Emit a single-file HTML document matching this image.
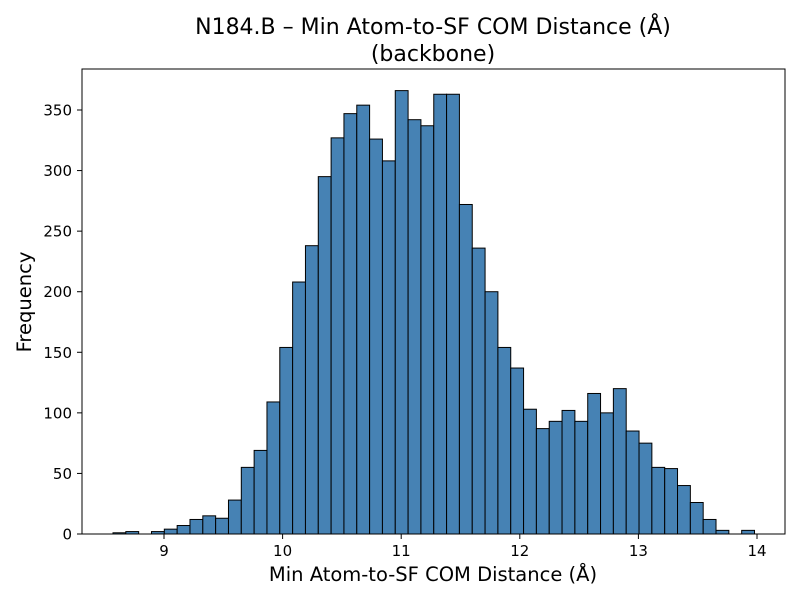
<!DOCTYPE html>
<html><head><meta charset="utf-8"><style>
body{margin:0;background:#fff;}
svg text{font-family:"DejaVu Sans","Liberation Sans",sans-serif;fill:#000;}
</style></head><body>
<svg id="chart" width="800" height="600">
<rect width="800" height="600" fill="#fff"/>
<text x="433" y="34" text-anchor="middle" font-size="22">N184.B – Min Atom-to-SF COM Distance (Å)</text>
<text x="433" y="61" text-anchor="middle" font-size="22">(backbone)</text>
<g id="bars"></g>
<rect x="82" y="69" width="703" height="465" fill="none" stroke="#000" stroke-width="1"/>
<g id="xticks"></g><g id="yticks"></g>
<text x="433" y="581" text-anchor="middle" font-size="19.5">Min Atom-to-SF COM Distance (Å)</text>
<text x="0" y="0" transform="translate(31,302) rotate(-90)" text-anchor="middle" font-size="19.5">Frequency</text>
</svg>
<script>
const binStart = 8.570;
const binWidth = 0.10818;
const counts = [1,2,0,2,4,7,12,15,13,28,55,69,109,154,208,238,295,327,347,354,326,308,366,342,337,363,363,272,236,200,154,137,103,87,93,102,93,116,100,120,85,75,55,54,40,26,12,3,0,3];
const xTicks = [9,10,11,12,13,14];
const yTicks = [0,50,100,150,200,250,300,350];
const NS="http://www.w3.org/2000/svg";
function xs(v){return 164+(v-9)*118.6;}
function ys(v){return 534-v*(424/350);}
const bars=document.getElementById('bars');
counts.forEach((c,i)=>{
  const x0=xs(binStart+i*binWidth), x1=xs(binStart+(i+1)*binWidth);
  const r=document.createElementNS(NS,'rect');
  r.setAttribute('x',x0);r.setAttribute('width',x1-x0);
  r.setAttribute('y',ys(c));r.setAttribute('height',ys(0)-ys(c));
  r.setAttribute('fill','#4682b4');r.setAttribute('stroke','#000');r.setAttribute('stroke-width','1');
  
  
  bars.appendChild(r);
});
const xt=document.getElementById('xticks');
xTicks.forEach(t=>{
  const l=document.createElementNS(NS,'line');
  l.setAttribute('x1',xs(t));l.setAttribute('x2',xs(t));l.setAttribute('y1',534);l.setAttribute('y2',539);l.setAttribute('stroke','#000');
  
  
  xt.appendChild(l);
  const tx=document.createElementNS(NS,'text');
  tx.setAttribute('x',xs(t));tx.setAttribute('y',556);tx.setAttribute('text-anchor','middle');tx.setAttribute('font-size','15');
  tx.textContent=t;
  
  
  xt.appendChild(tx);
});
const yt=document.getElementById('yticks');
yTicks.forEach(t=>{
  const l=document.createElementNS(NS,'line');
  l.setAttribute('x1',77);l.setAttribute('x2',82);l.setAttribute('y1',ys(t));l.setAttribute('y2',ys(t));l.setAttribute('stroke','#000');
  
  
  yt.appendChild(l);
  const tx=document.createElementNS(NS,'text');
  tx.setAttribute('x',72);tx.setAttribute('y',ys(t)+5.5);tx.setAttribute('text-anchor','end');tx.setAttribute('font-size','15');
  tx.textContent=t;
  
  
  yt.appendChild(tx);
});
</script>
</body></html>
